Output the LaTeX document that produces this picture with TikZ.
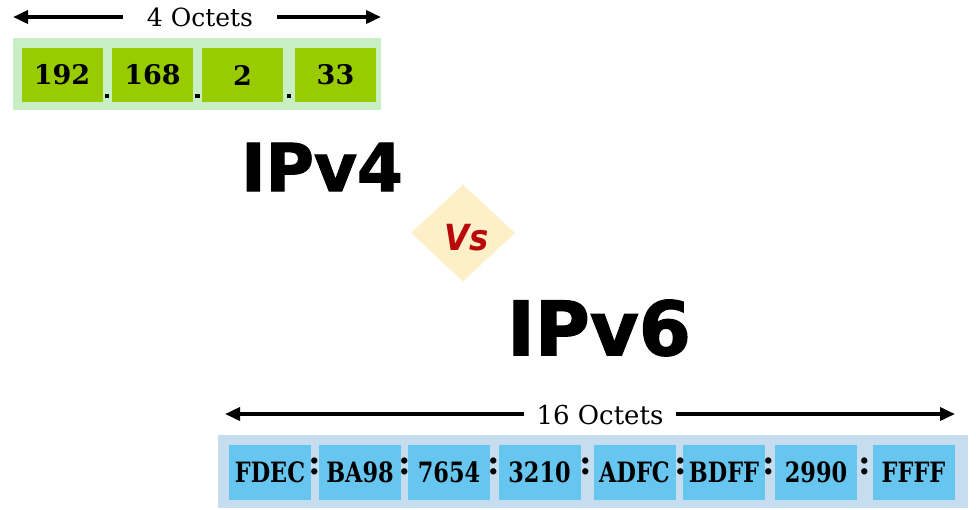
\documentclass[tikz,border=0pt]{standalone}
\usepackage{fontspec}
\setmainfont{DejaVu Serif}
\newfontfamily\heavy{DejaVu Sans}[BoldFeatures={FakeBold=1.6}]
\newfontfamily\serif{DejaVu Serif}
\usetikzlibrary{arrows.meta,shapes.geometric}
\definecolor{gout}{HTML}{C8EEC4}
\definecolor{gin}{HTML}{99CC00}
\definecolor{bout}{HTML}{C6DDF0}
\definecolor{bin}{HTML}{66C6EF}
\definecolor{dia}{HTML}{FDF0C9}
\definecolor{vsred}{HTML}{B80A0A}
\tikzset{
  arr/.style={line width=3.6pt,-{Triangle[length=15pt,width=13pt]}},
  lbl/.style={inner sep=0pt,inner xsep=24pt,font=\serif\fontsize{25}{27}\selectfont},
  lblb/.style={inner sep=0pt,inner xsep=12pt,font=\serif\fontsize{26}{28}\selectfont},
  gframe/.style={fill=gout,draw=none,minimum width=368pt,minimum height=72pt,inner sep=0pt},
  gcell/.style={fill=gin,draw=none,minimum width=81pt,minimum height=54pt,inner sep=0pt,font=\serif\bfseries\fontsize{27}{28}\selectfont},
  bframe/.style={fill=bout,draw=none,minimum width=750pt,minimum height=73pt,inner sep=0pt},
  bcell/.style={fill=bin,draw=none,minimum width=82pt,minimum height=55pt,inner sep=0pt,font=\serif\bfseries\fontsize{28}{29}\selectfont},
  dotsq/.style={fill=black,draw=none,minimum size=4.5pt,inner sep=0pt},
  colon/.style={inner sep=0pt,font=\serif\bfseries\fontsize{34}{35}\selectfont},
  big/.style={inner sep=0pt,font=\heavy\bfseries},
}
\newcommand{\sq}[1]{\scalebox{0.8}[1]{#1}}
\begin{document}
\begin{tikzpicture}[x=1pt,y=-1pt]
\useasboundingbox (0,0) rectangle (976,509);
\fill[white] (0,0) rectangle (976,509);
% IPv4 top
\node[lbl] (o4) at (200,17) {4 Octets};
\coordinate (a4l) at (13,17);
\coordinate (a4r) at (381,17);
\draw[arr] (o4) -- (a4l);
\draw[arr] (o4) -- (a4r);
\node[gframe] (gf) at (197,74) {};
\node[gcell] (g1) at (62,75) {192};
\node[gcell] (g2) at (152.5,75) {168};
\node[gcell] (g3) at (242.5,75) {2};
\node[gcell] (g4) at (335.5,75) {33};
\node[dotsq] (d1) at (107,96) {};
\node[dotsq] (d2) at (197.5,96) {};
\node[dotsq] (d3) at (289,96) {};
% titles
\node[big,font=\heavy\bfseries\fontsize{66}{70}\selectfont] (ipv4) at (322,167) {IPv4};
\node[diamond,fill=dia,draw=none,inner sep=0pt,minimum width=104pt,minimum height=97pt] (vsd) at (463,233) {};
\node[inner sep=0pt,text=vsred,font=\heavy\bfseries\itshape\fontsize{36}{38}\selectfont] (vs) at (467,238) {\scalebox{0.9}[1]{Vs}};
\node[big,font=\heavy\bfseries\fontsize{75}{80}\selectfont] (ipv6) at (599,328) {IPv6};
% IPv6 bottom
\node[lblb] (o16) at (600,415) {16 Octets};
\coordinate (a6l) at (225,414);
\coordinate (a6r) at (955,414);
\draw[arr] (o16.west |- a6l) -- (a6l);
\draw[arr] (o16.east |- a6r) -- (a6r);
\node[bframe] (bf) at (593,471.5) {};
\node[bcell] (b1) at (270,472.5) {\sq{FDEC}};
\node[bcell] (b2) at (360,472.5) {\sq{BA98}};
\node[bcell] (b3) at (449,472.5) {\sq{7654}};
\node[bcell] (b4) at (539.5,472.5) {\sq{3210}};
\node[bcell] (b5) at (634.5,472.5) {\sq{ADFC}};
\node[bcell] (b6) at (724,472.5) {\sq{BDFF}};
\node[bcell] (b7) at (816,472.5) {\sq{2990}};
\node[bcell] (b8) at (913.5,472.5) {\sq{FFFF}};
\node[colon] (c1) at (315,466) {:};
\node[colon] (c2) at (404.5,466) {:};
\node[colon] (c3) at (494,466) {:};
\node[colon] (c4) at (586,466) {:};
\node[colon] (c5) at (681,466) {:};
\node[colon] (c6) at (768.5,466) {:};
\node[colon] (c7) at (864.5,466) {:};
\end{tikzpicture}
\end{document}
